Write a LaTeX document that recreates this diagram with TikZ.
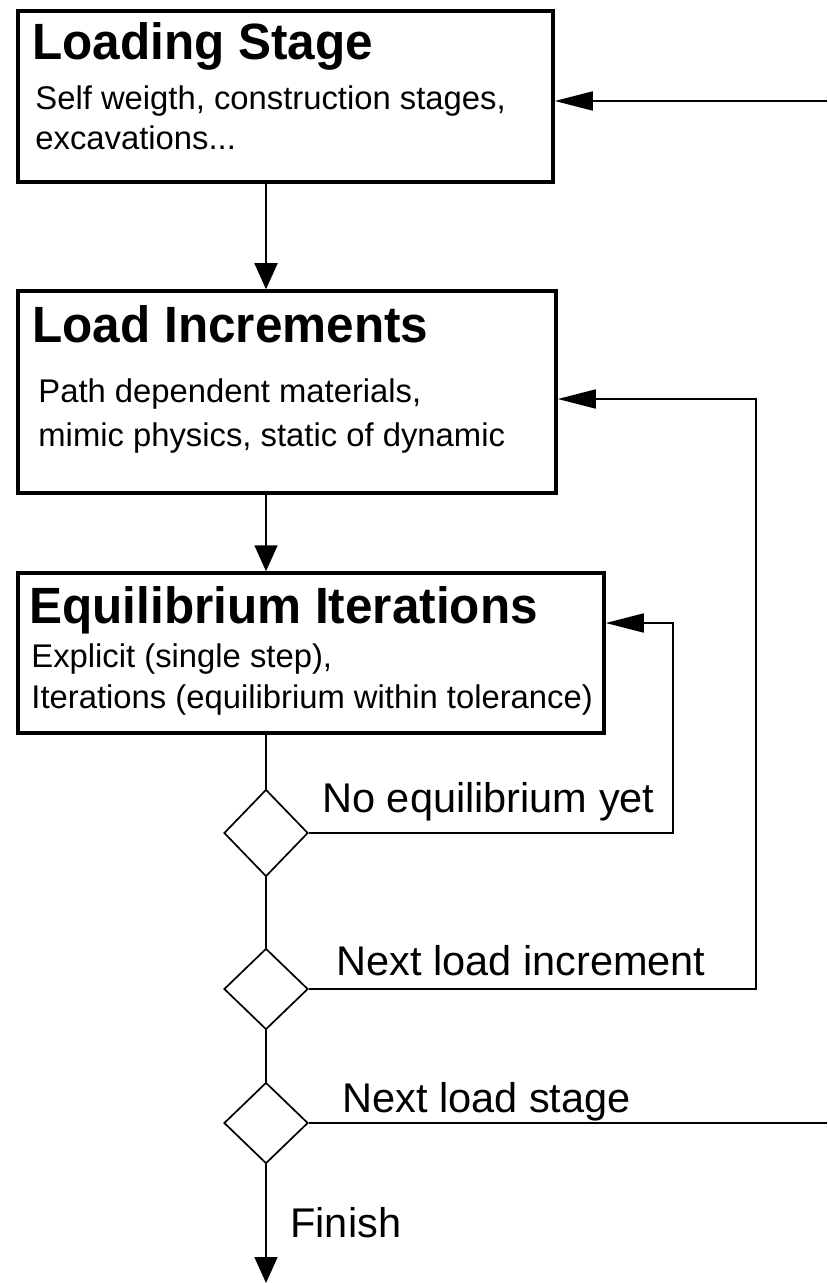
\documentclass[tikz,border=0pt]{standalone}
\usepackage{fontspec}
\setmainfont{Liberation Sans}
\newfontfamily\narrowbold[FakeStretch = 0.97]{Liberation Sans Bold}
\usetikzlibrary{arrows.meta,shapes.geometric}

\tikzset{
    stagebox/.style = {draw, line width = 1.75pt, minimum width = #1, inner sep = 0pt},
    decision/.style = {draw, diamond, line width = 0.85pt, minimum width = 42pt, inner sep = 0pt},
    txt/.style = {anchor = base west, inner sep = 0pt},
    heading/.style = {txt, font = \fontsize{25.5}{30}\narrowbold},
    detail/.style = {txt, font = \fontsize{16.4}{20}\selectfont},
    branch/.style = {txt, font = \fontsize{20.75}{24}\selectfont},
    flow/.style = {line width = 0.85pt},
    downarrow/.style = {flow, -{Triangle[length = 13pt, width = 11.5pt]}},
    sidearrow/.style = {flow, -{Triangle[length = 19pt, width = 9.5pt]}}
}

\begin{document}
\begin{tikzpicture}[x = 0.5pt, y = -0.5pt]
    \useasboundingbox (0, 0) rectangle (827, 1283);

    % the three stages
    \node[stagebox = 267.5pt, minimum height = 85.5pt] (box1) at (285.5, 96.5) {};
    \node[stagebox = 269pt, minimum height = 101pt] (box2) at (287, 392) {};
    \node[stagebox = 293pt, minimum height = 80pt] (box3) at (311, 653) {};

    \node[heading] (h1) at (32, 60) {Loading Stage};
    \node[detail] (s1a) at (35, 110) {Self weigth, construction stages,};
    \node[detail] (s1b) at (35, 150) {excavations...};
    \node[heading] (h2) at (32, 343) {Load Increments};
    \node[detail] (s2a) at (38, 402) {Path dependent materials,};
    \node[detail] (s2b) at (38, 446) {mimic physics, static of dynamic};
    \node[heading] (h3) at (29, 623) {Equilibrium Iterations};
    \node[detail] (s3a) at (31, 667) {Explicit (single step),};
    \node[detail] (s3b) at (31, 708) {Iterations (equilibrium within tolerance)};

    % the checks
    \foreach \n/\y/\h in {d1/833/43.5pt, d2/989/40.5pt, d3/1123/40.5pt}{
        \node[decision, minimum height = \h] (\n) at (266, \y) {};
    }

    \node[branch] (l1) at (322, 812) {No equilibrium yet};
    \node[branch] (l2) at (336, 975) {Next load increment};
    \node[branch] (l3) at (342, 1112) {Next load stage};
    \node[branch] (l4) at (290, 1237) {Finish};

    \coordinate (in1) at (827, 101);
    \coordinate (r1) at (673, 623);
    \coordinate (r2) at (756, 399);
    \coordinate (out3) at (827, 1123);
    \coordinate (fin) at (266, 1283);

    % main line
    \draw[downarrow] (box1.south -| d1) -- (box2.north -| d1);
    \draw[downarrow] (box2.south -| d1) -- (box3.north -| d1);
    \draw[flow] (box3.south -| d1) -- (d1.north);
    \draw[flow] (d1.south) -- (d2.north);
    \draw[flow] (d2.south) -- (d3.north);
    \draw[downarrow] (d3.south) -- (fin);

    % loops back
    \draw[sidearrow] (d1.east) -| (r1) -- (r1 -| box3.east);
    \draw[sidearrow] (d2.east) -| (r2) -- (r2 -| box2.east);
    \draw[flow] (d3.east) -- (out3);
    \draw[sidearrow] (in1) -- (in1 -| box1.east);
\end{tikzpicture}
\end{document}
